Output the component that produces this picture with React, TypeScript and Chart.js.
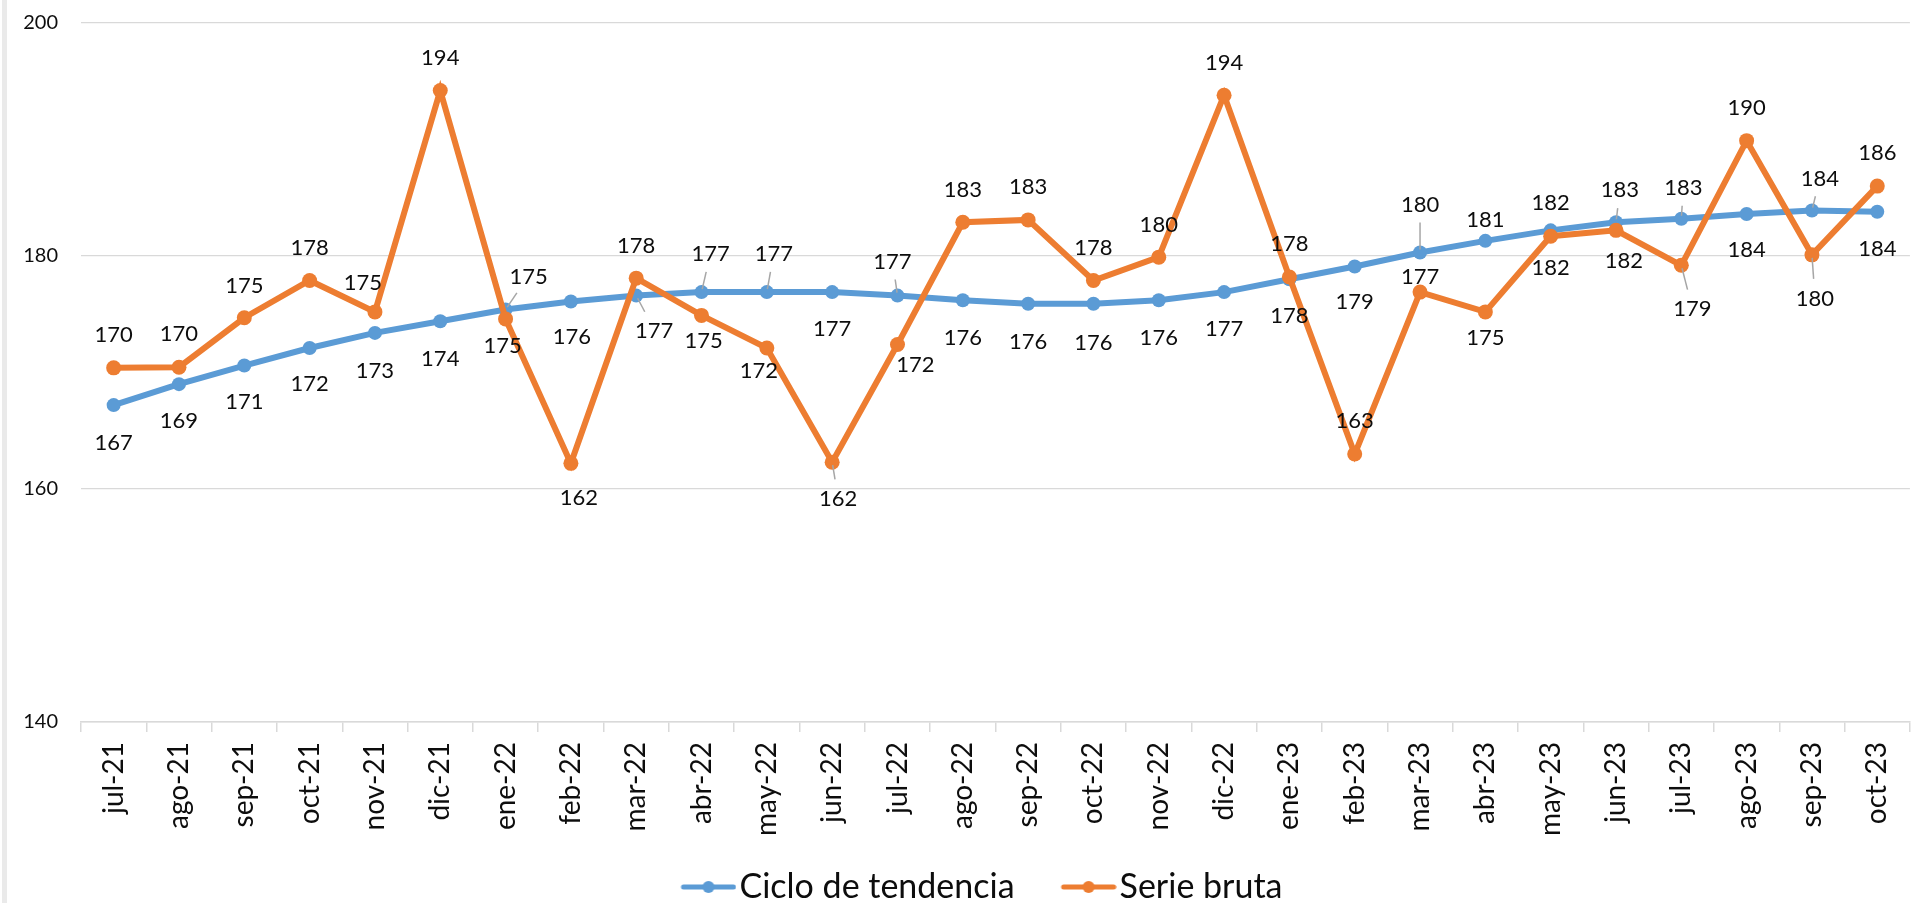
import React, { useEffect, useRef } from 'react';
import { Chart, registerables } from 'chart.js';

Chart.register(...registerables);

const months = [
  'jul-21', 'ago-21', 'sep-21', 'oct-21', 'nov-21', 'dic-21',
  'ene-22', 'feb-22', 'mar-22', 'abr-22', 'may-22', 'jun-22',
  'jul-22', 'ago-22', 'sep-22', 'oct-22', 'nov-22', 'dic-22',
  'ene-23', 'feb-23', 'mar-23', 'abr-23', 'may-23', 'jun-23',
  'jul-23', 'ago-23', 'sep-23', 'oct-23',
];

const trendSeries = [
  167.2, 169.0, 170.6, 172.1, 173.4, 174.4,
  175.4, 176.1, 176.6, 176.9, 176.9, 176.9,
  176.6, 176.2, 175.9, 175.9, 176.2, 176.9,
  178.0, 179.1, 180.3, 181.3, 182.2, 182.9,
  183.2, 183.6, 183.9, 183.8,
];

const rawSeries = [
  170.4, 170.45, 174.7, 177.9, 175.2, 194.2,
  174.6, 162.2, 178.1, 174.9, 172.1, 162.3,
  172.4, 182.9, 183.1, 177.9, 179.9, 193.8,
  178.2, 163.0, 176.9, 175.2, 181.7, 182.2,
  179.2, 189.9, 180.1, 186.0,
];

const yTickValues = [140, 160, 180, 200];

const seriesNames = ['Ciclo de tendencia', 'Serie bruta'];

// label placement (dx, dy from the point, leader line flag)
const trendLabelPlacement: [number, number, boolean][] = [
  [0, 37, false], [0, 36, false], [0, 35, false], [0, 35, false], [0, 37, false], [0, 37, false],
  [23, -34, true], [1, 35, false], [18, 34, true], [9, -39, true], [7, -39, true], [0, 36, false],
  [-5, -35, true], [0, 37, false], [0, 37, false], [0, 38, false], [0, 37, false], [0, 36, false],
  [0, 36, false], [0, 35, false], [0, -49, true], [0, -22, false], [0, -28, false], [4, -33, true],
  [2, -32, true], [0, 35, false], [8, -33, true], [0, 36, false],
];

const rawLabelPlacement: [number, number, boolean][] = [
  [0, -34, false], [0, -34, false], [0, -33, false], [0, -33, false], [-12, -30, false], [0, -34, false],
  [-3, 26, false], [8, 34, false], [0, -33, false], [2, 25, false], [-8, 22, false], [6, 36, true],
  [18, 19, false], [0, -33, false], [0, -34, false], [0, -33, false], [0, -33, false], [0, -33, false],
  [0, -34, false], [0, -34, false], [0, -16, false], [0, 25, false], [0, 31, false], [8, 30, false],
  [11, 43, true], [0, -34, false], [3, 43, true], [0, -34, false],
];

const BLUE = '#5B9BD5';
const ORANGE = '#ED7D31';
const TEXT = '#0D0D0D';
const GRID = '#D9D9D9';
const FONT = 'Lato';

Chart.defaults.font.family = FONT;
Chart.defaults.font.size = 20;

const LEGEND_FONT = 34;
const LEGEND_PAD = 18;
const LEGEND_BOX = 70;
const MARKER_IMG_W = LEGEND_BOX + 2 * (LEGEND_FONT / 2 - 3);

function makeLegendMarker(color: string): HTMLCanvasElement {
  const c = document.createElement('canvas');
  c.width = MARKER_IMG_W;
  c.height = 16;
  const ctx = c.getContext('2d')!;
  const x1 = MARKER_IMG_W - 56;
  ctx.strokeStyle = color;
  ctx.lineWidth = 5;
  ctx.lineCap = 'round';
  ctx.beginPath();
  ctx.moveTo(x1 + 3, 8);
  ctx.lineTo(MARKER_IMG_W - 3, 8);
  ctx.stroke();
  ctx.fillStyle = color;
  ctx.beginPath();
  ctx.arc(x1 + 28, 8, 6, 0, Math.PI * 2);
  ctx.fill();
  return c;
}

const valueLabelPlugin = {
  id: 'valueLabels',
  afterDatasetsDraw(chart: any) {
    const ctx = chart.ctx as CanvasRenderingContext2D;
    const placements = [trendLabelPlacement, rawLabelPlacement];
    ctx.save();
    ctx.font = `22px ${FONT}`;
    ctx.textAlign = 'center';
    ctx.textBaseline = 'alphabetic';
    chart.data.datasets.forEach((ds: any, di: number) => {
      const meta = chart.getDatasetMeta(di);
      meta.data.forEach((pt: any, i: number) => {
        const [dx, dy, leader] = placements[di][i];
        const cx = pt.x + dx;
        const cy = pt.y + dy;
        const txt = String(Math.round(ds.data[i]));
        if (leader) {
          const vx = pt.x - cx;
          const vy = pt.y - cy;
          const len = Math.hypot(vx, vy);
          const ux = vx / len;
          const uy = vy / len;
          const hw = 20;
          const hh = 9;
          const tx = Math.abs(ux) > 1e-6 ? hw / Math.abs(ux) : Infinity;
          const ty = Math.abs(uy) > 1e-6 ? hh / Math.abs(uy) : Infinity;
          const tEdge = Math.min(tx, ty) + 10;
          if (tEdge < len - 4) {
            ctx.strokeStyle = '#A6A6A6';
            ctx.lineWidth = 1.5;
            ctx.beginPath();
            ctx.moveTo(cx + ux * tEdge, cy + uy * tEdge);
            ctx.lineTo(pt.x - ux * 3, pt.y - uy * 3);
            ctx.stroke();
          }
        }
        ctx.fillStyle = TEXT;
        ctx.fillText(txt, cx, cy + 8);
      });
    });
    ctx.restore();
  },
};

const framePlugin = {
  id: 'frame',
  beforeDraw(chart: any) {
    const ctx = chart.ctx as CanvasRenderingContext2D;
    ctx.save();
    ctx.fillStyle = '#EAEAEA';
    ctx.fillRect(2, 0, 5, chart.height);
    ctx.restore();
  },
  afterLayout(chart: any) {
    const lg = chart.legend;
    if (lg) {
      lg.left += 7;
      lg.right += 7;
    }
  },
};

export default function App() {
  const canvasRef = useRef<HTMLCanvasElement | null>(null);

  useEffect(() => {
    if (!canvasRef.current) return;
    const markers = [makeLegendMarker(BLUE), makeLegendMarker(ORANGE)];
    const chart = new Chart(canvasRef.current, {
      type: 'line',
      data: {
        labels: months,
        datasets: [
          {
            label: seriesNames[0],
            data: trendSeries,
            borderColor: BLUE,
            backgroundColor: BLUE,
            borderWidth: 6,
            pointRadius: 7,
            pointBorderWidth: 0,
            pointBackgroundColor: BLUE,
            tension: 0,
            order: 1,
          },
          {
            label: seriesNames[1],
            data: rawSeries,
            borderColor: ORANGE,
            backgroundColor: ORANGE,
            borderWidth: 6,
            pointRadius: 7.5,
            pointBorderWidth: 0,
            pointBackgroundColor: ORANGE,
            tension: 0,
            order: 0,
          },
        ],
      },
      options: {
        animation: false,
        responsive: true,
        maintainAspectRatio: false,
        layout: { padding: { top: 11, bottom: -11, left: 0, right: 0 } },
        plugins: {
          tooltip: { enabled: false },
          legend: {
            position: 'bottom',
            labels: {
              usePointStyle: true,
              pointStyleWidth: LEGEND_BOX,
              padding: LEGEND_PAD,
              color: TEXT,
              font: { size: LEGEND_FONT, family: FONT },
              sort: (a: any, b: any) => a.datasetIndex - b.datasetIndex,
              generateLabels: (ch: any) => {
                const items = Chart.defaults.plugins.legend.labels.generateLabels(ch);
                return items.map((it: any) => ({ ...it, pointStyle: markers[it.datasetIndex] }));
              },
            },
          },
        },
        scales: {
          x: {
            offset: true,
            grid: {
              offset: true,
              drawOnChartArea: false,
              drawTicks: true,
              tickLength: 10,
              color: GRID,
              lineWidth: 1.5,
            },
            border: { display: true, color: GRID, width: 1.5 },
            ticks: {
              minRotation: 90,
              maxRotation: 90,
              autoSkip: false,
              padding: 10,
              color: TEXT,
              font: { size: 28, family: FONT },
            },
            afterFit: (s: any) => {
              s.height = 130;
            },
          },
          y: {
            min: 140,
            max: 200,
            afterBuildTicks: (s: any) => {
              s.ticks = yTickValues.map((v) => ({ value: v }));
            },
            ticks: {
              padding: 11,
              color: TEXT,
              font: { size: 20, family: FONT },
            },
            grid: {
              color: GRID,
              lineWidth: 1.3,
              drawTicks: true,
              tickLength: 12,
              tickColor: 'rgba(0,0,0,0)',
            },
            border: { display: false },
            afterFit: (s: any) => {
              s.width = 81;
            },
          },
        },
      },
      plugins: [valueLabelPlugin, framePlugin],
    } as any);
    return () => chart.destroy();
  }, []);

  return (
    <div style={{ position: 'absolute', left: 0, top: 0, width: 1921, height: 903, background: '#ffffff' }}>
      <canvas ref={canvasRef} />
    </div>
  );
}
